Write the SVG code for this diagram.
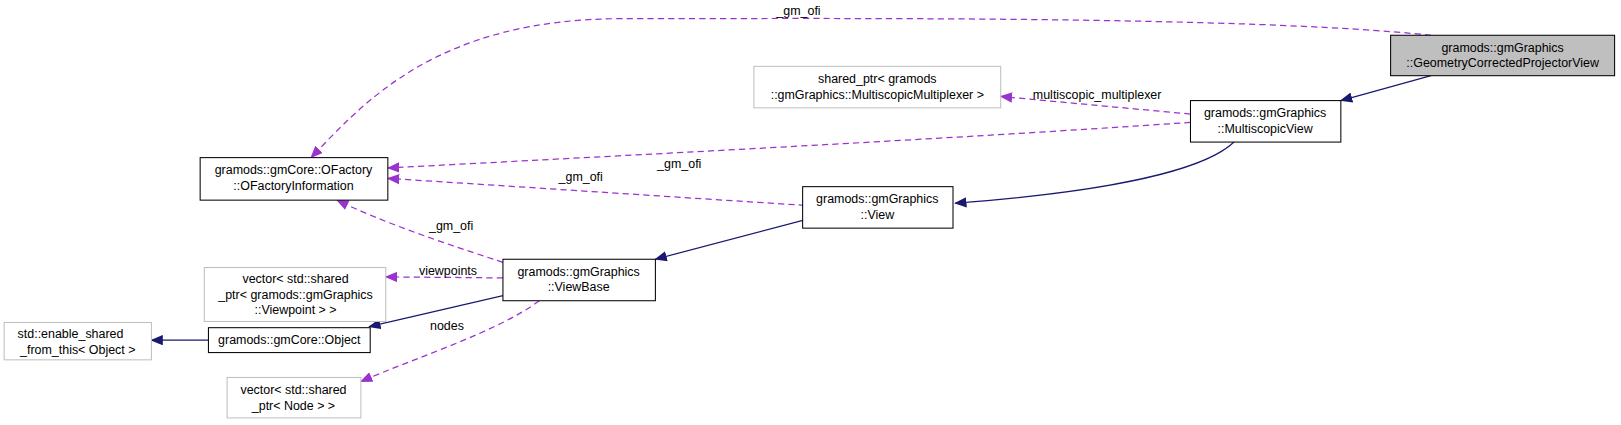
<svg xmlns="http://www.w3.org/2000/svg" width="1621" height="425" viewBox="0 0 1621 425">
<style>
text{font-family:"Liberation Sans",Arial,sans-serif;font-size:12px;fill:#000;text-anchor:middle}
.n{fill:#fff;stroke:#000;stroke-width:1}
.g{fill:#fff;stroke:#bfbfbf;stroke-width:1}
.s{fill:#bfbfbf;stroke:#000}
.inh{fill:none;stroke:#191970;stroke-width:1.2}
.use{fill:none;stroke:#9a32cd;stroke-width:1.2;stroke-dasharray:6,4}
</style>
<defs>
<marker id="ai" markerWidth="12" markerHeight="10" refX="11" refY="5" orient="auto" markerUnits="userSpaceOnUse"><path d="M0,0L12,5L0,10z" fill="#191970"/></marker>
<marker id="au" markerWidth="12" markerHeight="10" refX="11" refY="5" orient="auto" markerUnits="userSpaceOnUse"><path d="M0,0L12,5L0,10z" fill="#9a32cd"/></marker>
</defs>
<rect width="1621" height="425" fill="#fff"/>
<g transform="scale(1.037)">
<g id="edges">
<path class="inh" marker-end="url(#ai)" d="M1380,73L1293,97"/>
<path class="inh" marker-end="url(#ai)" d="M1190,137C1150,175 1000,190 921,196"/>
<path class="inh" marker-end="url(#ai)" d="M776,212L632,250"/>
<path class="inh" marker-end="url(#ai)" d="M485,285L356,315"/>
<path class="inh" marker-end="url(#ai)" d="M201,328L146,328"/>
<path class="use" marker-end="url(#au)" d="M1380,34C1200,15 800,18 600,18C420,18 350,100 300,152"/>
<path class="use" marker-end="url(#au)" d="M1148,110L965,93"/>
<path class="use" marker-end="url(#au)" d="M1148,118C900,135 600,150 374,162"/>
<path class="use" marker-end="url(#au)" d="M776,198C650,190 500,180 374,172"/>
<path class="use" marker-end="url(#au)" d="M485,253C430,235 370,215 325,193"/>
<path class="use" marker-end="url(#au)" d="M485,268L372,267"/>
<path class="use" marker-end="url(#au)" d="M520,290C480,320 400,345 348,368"/>
<text x="770" y="14">_gm_ofi</text>
<text x="1058" y="95">multiscopic_multiplexer</text>
<text x="655" y="162">_gm_ofi</text>
<text x="560" y="175">_gm_ofi</text>
<text x="435" y="222">_gm_ofi</text>
<text x="432" y="265">viewpoints</text>
<text x="431" y="318">nodes</text>
</g>
<g id="gcpv"><rect class="s" x="1341" y="34" width="216" height="39"/><text x="1449" y="50">gramods::gmGraphics</text><text x="1449" y="65">::GeometryCorrectedProjectorView</text></g>
<g id="mv"><rect class="n" x="1148" y="97" width="145" height="40"/><text x="1220" y="113">gramods::gmGraphics</text><text x="1220" y="128">::MultiscopicView</text></g>
<g id="sp"><rect class="g" x="727" y="64" width="238" height="40"/><text x="846" y="80">shared_ptr&lt; gramods</text><text x="846" y="95">::gmGraphics::MultiscopicMultiplexer &gt;</text></g>
<g id="ofi"><rect class="n" x="193" y="152" width="181" height="41"/><text x="283" y="168">gramods::gmCore::OFactory</text><text x="283" y="183">::OFactoryInformation</text></g>
<g id="view"><rect class="n" x="774" y="180" width="145" height="40"/><text x="846" y="196">gramods::gmGraphics</text><text x="846" y="211">::View</text></g>
<g id="vb"><rect class="n" x="485" y="250" width="147" height="40"/><text x="558" y="266">gramods::gmGraphics</text><text x="558" y="281">::ViewBase</text></g>
<g id="vp"><rect class="g" x="197" y="258" width="175" height="52"/><text x="285" y="273">vector&lt; std::shared</text><text x="285" y="288">_ptr&lt; gramods::gmGraphics</text><text x="285" y="303">::Viewpoint &gt; &gt;</text></g>
<g id="esft"><rect class="g" x="4" y="311" width="142" height="36"/><text x="68" y="326">std::enable_shared</text><text x="75" y="341">_from_this&lt; Object &gt;</text></g>
<g id="obj"><rect class="n" x="201" y="316" width="156" height="24"/><text x="279" y="332">gramods::gmCore::Object</text></g>
<g id="nodes"><rect class="g" x="219" y="364" width="129" height="39"/><text x="283" y="380">vector&lt; std::shared</text><text x="283" y="395">_ptr&lt; Node &gt; &gt;</text></g>
</g>
</svg>
